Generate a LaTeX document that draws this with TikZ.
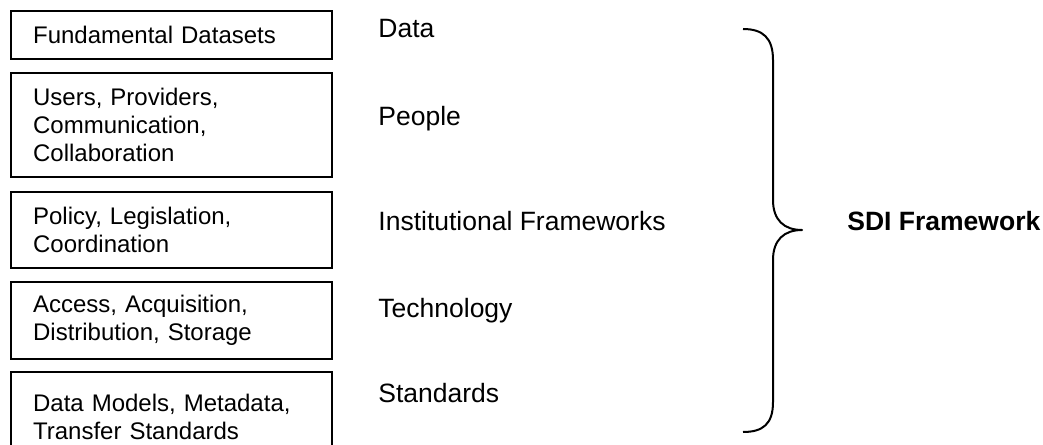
\documentclass[tikz,border=0pt]{standalone}
\usepackage{fontspec}
\setmainfont{Liberation Sans}

\begin{document}
\begin{tikzpicture}[x=0.5pt, y=-0.5pt,
                    component/.style={draw, line width=1.1pt, anchor=north west, align=left,
                                      text width=138.5pt, inner xsep=11pt, inner ysep=0pt,
                                      font=\fontsize{12}{14}\selectfont},
                    aspect/.style={anchor=base west, inner sep=0pt,
                                   font=\fontsize{13.25}{15}\selectfont},
                    bracket/.style={line width=1pt, line join=round}]
            \useasboundingbox (0,0) rectangle (1043,444);
            % components of each layer
            \node[component, minimum height=24pt] (datasets) at (10,10) {Fundamental Datasets};
            \node[component, minimum height=52pt] (users) at (10,72)
                {Users, Providers,\\Communication,\\Collaboration};
            \node[component, minimum height=38pt] (policy) at (10,191)
                {Policy, Legislation,\\Coordination};
            \node[component, minimum height=38.5pt] (access) at (10,281)
                {Access, Acquisition,\\Distribution, Storage};
            \node[component, minimum height=44.5pt] (models) at (10,371)
                {Data Models, Metadata,\\Transfer Standards};
            % layer names
            \node[aspect] (data) at (378,38) {Data};
            \node[aspect] (people) at (378,126) {People};
            \node[aspect] (institutional) at (378,230) {Institutional Frameworks};
            \node[aspect] (technology) at (378,317) {Technology};
            \node[aspect] (standards) at (378,402) {Standards};
            % brace
            \draw[bracket] (743,29) .. controls (763,29) and (773,38) .. (773,60)
                -- (773,200) .. controls (773,220) and (784,230) .. (802,230)
                .. controls (784,230) and (773,240) .. (773,260)
                -- (773,402) .. controls (773,424) and (763,432) .. (743,432);
            \node[aspect, font=\fontsize{13.25}{15}\selectfont\bfseries] (sdi) at (847,230) {SDI Framework};
        \end{tikzpicture}
\end{document}
